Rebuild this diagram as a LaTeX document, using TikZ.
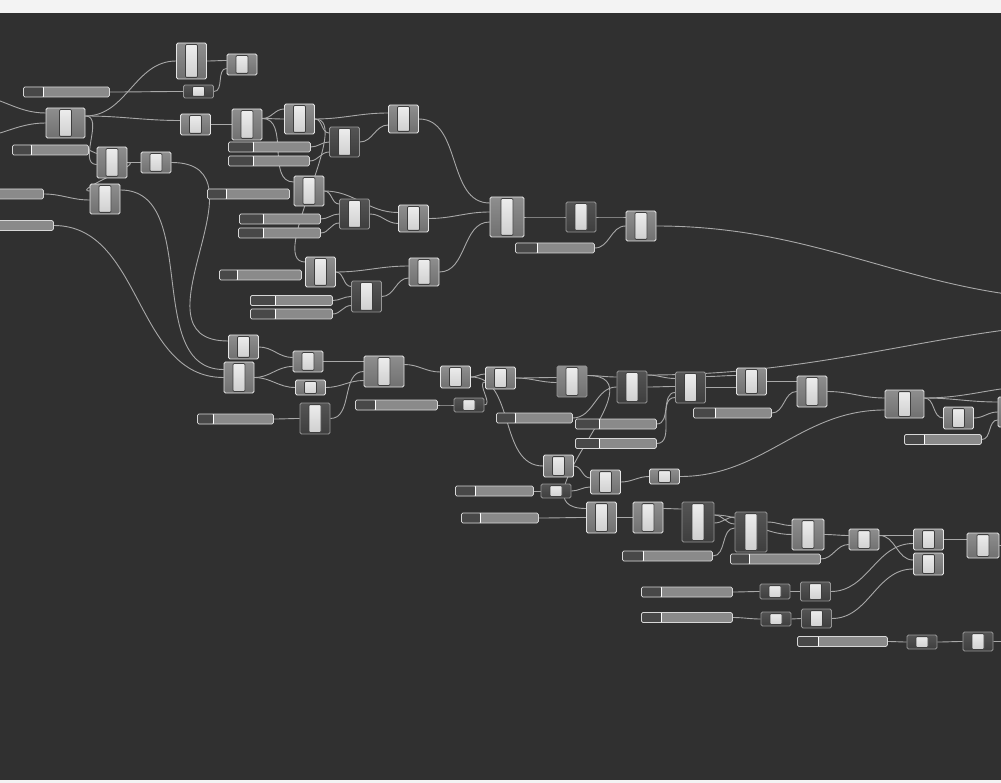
\documentclass[tikz,border=0pt]{standalone}
\usepackage{xcolor}
\usepackage{tikz}
\usetikzlibrary{backgrounds}
\definecolor{canvas}{RGB}{48,48,48}
\definecolor{topbar}{RGB}{243,243,243}
\definecolor{boxtop}{RGB}{142,142,142}
\definecolor{boxbot}{RGB}{112,112,112}
\definecolor{darktop}{RGB}{84,84,84}
\definecolor{darkbot}{RGB}{62,62,62}
\definecolor{edgelight}{RGB}{228,228,228}
\definecolor{edgedark}{RGB}{150,150,150}
\definecolor{bartop}{RGB}{238,238,238}
\definecolor{barbot}{RGB}{206,206,206}
\definecolor{baredge}{RGB}{62,62,62}
\definecolor{sliderfill}{RGB}{138,138,138}
\definecolor{sliderdark}{RGB}{72,72,72}
\definecolor{edgeslider}{RGB}{215,215,215}
\definecolor{wirecol}{RGB}{168,168,168}
\tikzset{
  comp/.style={rectangle, rounded corners=1.5pt, draw=edgelight, line width=0.8pt,
               top color=boxtop, bottom color=boxbot, minimum width=30pt, minimum height=#1, inner sep=0pt,
               path picture={\draw[draw=baredge, line width=0.8pt, top color=bartop, bottom color=barbot, rounded corners=1pt]
                 ([xshift=-6pt,yshift=1.6pt]path picture bounding box.south) rectangle ([xshift=6pt,yshift=-1.6pt]path picture bounding box.north);}},
  comp/.default=30pt,
  compdark/.style={comp=#1, draw=edgedark, top color=darktop, bottom color=darkbot},
  compdark/.default=30pt,
  slider/.style={rectangle, rounded corners=1.5pt, draw=edgeslider, line width=0.8pt, fill=sliderfill,
                 minimum height=10pt, inner sep=0pt, anchor=west,
                 path picture={\fill[sliderdark] (path picture bounding box.south west) rectangle ([xshift=#1]path picture bounding box.north west);
                   \draw[white, line width=0.8pt] ([xshift=#1]path picture bounding box.south west) -- ([xshift=#1]path picture bounding box.north west);}},
  slider/.default=20pt,
  wire/.style={draw=wirecol, line width=0.9pt, out=0, in=180},
}
\begin{document}
\begin{tikzpicture}[x=1pt, y=-1pt]
\useasboundingbox (0,0) rectangle (1001,783);
% upper group
\node[comp=36pt] (A) at (191.5,61) {};
\node[comp=21pt] (B) at (242,64.5) {};
\node[compdark=13pt] (C) at (198.5,91.5) {};
\node[slider, minimum width=86pt] (S1) at (23,92) {};
\node[comp, minimum width=39pt] (D) at (65.5,123) {};
\node[comp=21pt] (E) at (195.5,124.5) {};
\node[comp=31pt] (F) at (247,124.5) {};
\node[comp] (G) at (299.5,119) {};
\node[slider=19pt, minimum width=76pt] (S2) at (12,150) {};
\node[comp=31pt] (H) at (112,162.5) {};
\node[comp=21pt] (I) at (156,162.5) {};
\node[slider=25pt, minimum width=82pt] (S3) at (228,147) {};
\node[slider=25pt, minimum width=81pt] (S4) at (228,161) {};
\node[slider, minimum width=78pt] (S5) at (-35,194) {};
\node[comp] (J) at (105,199) {};
\node[slider, minimum width=83pt] (S6) at (-30,225.5) {};
\node[comp] (K) at (309,191) {};
\node[slider=19pt, minimum width=82pt] (S7) at (207,194) {};
\node[slider=24pt, minimum width=81pt] (S8) at (239,219) {};
\node[slider=25pt, minimum width=82pt] (S9) at (238,233) {};
\node[comp=28pt] (L) at (403.5,119) {};
\node[compdark] (M) at (344.5,142) {};
\node[compdark] (N) at (354.5,214) {};
\node[comp=27pt] (O) at (413.5,218.5) {};
\node[comp] (P) at (320.5,272) {};
\node[comp=28pt] (Q) at (424,272) {};
\node[compdark=31pt] (R) at (366.5,296.5) {};
\node[slider=18pt, minimum width=82pt] (S10) at (219,275) {};
\node[slider=25pt, minimum width=82pt] (S11) at (250,300.5) {};
\node[slider=25pt, minimum width=82pt] (S12) at (250,314) {};
\node[comp=40pt, minimum width=34pt] (T) at (507,217) {};
\node[compdark] (U) at (581,217) {};
\node[comp] (V) at (641,226) {};
\node[slider=22pt, minimum width=79pt] (S13) at (515,248) {};
% middle group
\node[comp=24pt] (W) at (243.5,347) {};
\node[comp=31pt] (X) at (239,377.5) {};
\node[comp=21pt] (Y) at (308,361.5) {};
\node[comp=15pt] (Z) at (310.5,387.5) {};
\node[slider=16pt, minimum width=76pt] (S14) at (197,419) {};
\node[compdark=31pt] (AA) at (315,418.5) {};
\node[comp=31pt, minimum width=40pt] (AB) at (384,371.5) {};
\node[slider, minimum width=82pt] (S15) at (355,405) {};
\node[compdark=14pt] (AC) at (469,405) {};
\node[comp=22pt] (AD) at (455.5,377) {};
\node[comp=22pt] (AE) at (500.5,378) {};
\node[comp=31pt, draw=edgedark] (AF) at (572,381.5) {};
\node[compdark=32pt] (AG) at (632,387) {};
\node[compdark=31pt] (AH) at (690.5,387.5) {};
\node[comp=27pt] (AI) at (751.5,381.5) {};
\node[comp=31pt] (AJ) at (812,391.5) {};
\node[slider=19pt, minimum width=76pt] (S16) at (496,418) {};
\node[slider=24pt, minimum width=81pt] (S17) at (575,424) {};
\node[slider=24pt, minimum width=81pt] (S18) at (575,443.5) {};
\node[slider=22pt, minimum width=78pt] (S19) at (693,413) {};
\node[comp=22pt] (AK) at (558.5,466) {};
\node[compdark=14pt] (AL) at (556,491) {};
\node[comp=24pt] (AM) at (605.5,482) {};
\node[comp=15pt] (AN) at (664.5,476.5) {};
\node[slider, minimum width=78pt] (S20) at (455,491) {};
\node[slider=19pt, minimum width=77pt] (S21) at (461,518) {};
\node[comp=31pt] (AO) at (601.5,517.5) {};
\node[comp=31pt] (AP) at (648,517.5) {};
\node[compdark=40pt, minimum width=32pt] (AQ) at (698,522) {};
\node[compdark=40pt, minimum width=32pt] (AR) at (751,532) {};
\node[slider=21pt, minimum width=90pt] (S22) at (622,556) {};
\node[slider=19pt, minimum width=90pt] (S23) at (730,559) {};
\node[comp=31pt, minimum width=32pt] (AS) at (808,534.5) {};
\node[comp=21pt] (AT) at (864,539.5) {};
\node[comp=21pt] (AU) at (928.5,539.5) {};
\node[comp=22pt] (AV) at (928.5,564) {};
\node[comp=25pt, minimum width=32pt] (AW) at (983,545.5) {};
\node[slider, minimum width=91pt] (S24) at (641,592) {};
\node[compdark=15pt] (AX) at (775,591.5) {};
\node[compdark=19pt] (AY) at (815.5,591.5) {};
\node[slider, minimum width=91pt] (S25) at (641,617.5) {};
\node[compdark=14pt] (AZ) at (776,619) {};
\node[compdark=19pt] (BA) at (816.5,618.5) {};
\node[slider=21pt, minimum width=90pt] (S26) at (797,641.5) {};
\node[compdark=14pt] (BB) at (922,642) {};
\node[compdark=19pt] (BC) at (978,641.5) {};
\node[comp=28pt, minimum width=39pt] (BD) at (904.5,404) {};
\node[comp=22pt] (BE) at (958.5,418) {};
\node[comp] (BF) at (1013,412) {};
\node[slider, minimum width=77pt] (S27) at (904,439.5) {};
% wires running off the canvas
\coordinate (inL1) at (-30,95);
\coordinate (inL2) at (-30,138);
\coordinate (outR1) at (1090,300);
\coordinate (outR2) at (1150,320);
\coordinate (outR3) at (1040,386);
\coordinate (outR4) at (1040,545);
\coordinate (outR5) at (1040,642);
\begin{scope}[on background layer]
\fill[topbar] (0,0) rectangle (1001,13);
\fill[canvas] (0,13) rectangle (1001,780);
\fill[topbar] (0,780) rectangle (1001,783);
\draw[wire] (inL1) to ([yshift=10pt]D.west);
\draw[wire] (inL2) to (D.west);
\draw[wire] ([yshift=7pt]D.east) to (A.west);
\draw[wire] ([yshift=7pt]D.east) to ([yshift=4pt]E.west);
\draw[wire] ([yshift=7pt]D.east) to ([yshift=-2pt]H.west);
\draw[wire] (S1.east) to (C.west);
\draw[wire] (C.east) to ([yshift=-4pt]B.west);
\draw[wire] (A.east) to ([yshift=4pt]B.west);
\draw[wire] (E.east) to (F.west);
\draw[wire] (S2.east) to ([yshift=9pt]H.west);
\draw[wire] (H.east) to (I.west);
\draw[wire] (H.east) to ([yshift=8pt]J.west);
\draw[wire] (S5.east) to ([yshift=-1pt]J.west);
\draw[wire, looseness=1.4] (I.east) to ([yshift=6pt]W.west);
\draw[wire] ([yshift=9pt]J.east) to ([yshift=8pt]X.west);
\draw[wire] (S6.east) to (X.west);
\draw[wire] ([yshift=6pt]F.east) to ([yshift=10pt]G.west);
\draw[wire] ([yshift=6pt]F.east) to (G.west);
\draw[wire] ([yshift=6pt]F.east) to ([yshift=9pt]K.west);
\draw[wire] (G.east) to ([yshift=6pt]L.west);
\draw[wire] (G.east) to ([yshift=9pt]M.west);
\draw[wire] (S3.east) to (M.west);
\draw[wire] (S4.east) to ([yshift=-10pt]M.west);
\draw[wire] (M.east) to ([yshift=-6pt]L.west);
\draw[wire, looseness=0.7] (G.east) to ([yshift=10pt]P.west);
\draw[wire] (L.east) to ([yshift=14pt]T.west);
\draw[wire] (K.east) to ([yshift=10pt]N.west);
\draw[wire] (K.east) to ([yshift=6pt]O.west);
\draw[wire] (S8.east) to (N.west);
\draw[wire] (S9.east) to ([yshift=-9pt]N.west);
\draw[wire] (N.east) to ([yshift=-5pt]O.west);
\draw[wire] (O.east) to ([yshift=5pt]T.west);
\draw[wire] (P.east) to ([yshift=6pt]Q.west);
\draw[wire] (P.east) to ([yshift=10pt]R.west);
\draw[wire] (S11.east) to (R.west);
\draw[wire] (S12.east) to ([yshift=-9pt]R.west);
\draw[wire] (R.east) to ([yshift=-6pt]Q.west);
\draw[wire] (Q.east) to ([yshift=-5pt]T.west);
\draw[wire] (T.east) to (U.west);
\draw[wire] (U.east) to ([yshift=9pt]V.west);
\draw[wire] (S13.east) to (V.west);
\draw[wire] (V.east) to (outR1);
\draw[wire] (W.east) to ([yshift=4pt]Y.west);
\draw[wire] (X.east) to ([yshift=-5pt]Y.west);
\draw[wire] (X.east) to (Z.west);
\draw[wire] (Y.east) to ([yshift=10pt]AB.west);
\draw[wire] (AA.east) to (AB.west);
\draw[wire] (Z.east) to ([yshift=-9pt]AB.west);
\draw[wire] (S14.east) to (AA.west);
\draw[wire] ([yshift=7pt]AB.east) to ([yshift=5pt]AD.west);
\draw[wire] (S15.east) to (AC.west);
\draw[wire] (AD.east) to ([yshift=4pt]AE.west);
\draw[wire] (AC.east) to ([yshift=-4pt]AE.west);
\draw[wire] (AD.east) to (AK.west);
\draw[wire] (AE.east) to ([yshift=4pt]AF.west);
\draw[wire] (AE.east) to ([yshift=-1pt]AF.west);
\draw[wire] ([yshift=6pt]AF.east) to ([yshift=10pt]AG.west);
\draw[wire, looseness=1.5] ([yshift=6pt]AF.east) to ([yshift=9pt]AO.west);
\draw[wire] (S16.east) to (AG.west);
\draw[wire] ([yshift=12pt]AG.east) to (outR2);
\draw[wire] ([yshift=12pt]AG.east) to ([yshift=9pt]AH.west);
\draw[wire] (AG.east) to ([yshift=1pt]AH.west);
\draw[wire] (S17.east) to ([yshift=-5pt]AH.west);
\draw[wire] (S18.east) to ([yshift=-10pt]AH.west);
\draw[wire] ([yshift=11pt]AH.east) to ([yshift=6pt]AI.west);
\draw[wire] (AH.east) to ([yshift=-6pt]AI.west);
\draw[wire] (AI.east) to ([yshift=10pt]AJ.west);
\draw[wire] (S19.east) to (AJ.west);
\draw[wire] (AJ.east) to ([yshift=6pt]BD.west);
\draw[wire] (AN.east) to ([yshift=-6pt]BD.west);
\draw[wire] (AK.east) to ([yshift=4pt]AM.west);
\draw[wire] (AL.east) to ([yshift=-5pt]AM.west);
\draw[wire] (S20.east) to (AL.west);
\draw[wire] (AM.east) to (AN.west);
\draw[wire] (S21.east) to (AO.west);
\draw[wire] (AO.east) to (AP.west);
\draw[wire] ([yshift=9pt]AP.east) to ([yshift=13pt]AQ.west);
\draw[wire] ([yshift=7pt]AQ.east) to ([yshift=8pt]AR.west);
\draw[wire] ([yshift=-1pt]AQ.east) to ([yshift=15pt]AR.west);
\draw[wire] ([yshift=7pt]AQ.east) to (AS.west);
\draw[wire] (S22.east) to ([yshift=4pt]AR.west);
\draw[wire] ([yshift=10pt]AR.east) to ([yshift=9pt]AS.west);
\draw[wire] (AS.east) to ([yshift=4pt]AT.west);
\draw[wire] (S23.east) to ([yshift=-5pt]AT.west);
\draw[wire] ([yshift=4pt]AT.east) to ([yshift=4pt]AU.west);
\draw[wire] ([yshift=4pt]AT.east) to ([yshift=4pt]AV.west);
\draw[wire] (AY.east) to ([yshift=-4pt]AU.west);
\draw[wire] (BA.east) to ([yshift=-5pt]AV.west);
\draw[wire] (AU.east) to ([yshift=6pt]AW.west);
\draw[wire] (AW.east) to (outR4);
\draw[wire] (S24.east) to (AX.west);
\draw[wire] (AX.east) to (AY.west);
\draw[wire] (S25.east) to (AZ.west);
\draw[wire] (AZ.east) to (BA.west);
\draw[wire] (S26.east) to (BB.west);
\draw[wire] (BB.east) to (BC.west);
\draw[wire] (BC.east) to (outR5);
\draw[wire] ([yshift=6pt]BD.east) to (outR3);
\draw[wire] ([yshift=6pt]BD.east) to ([yshift=10pt]BF.west);
\draw[wire] ([yshift=6pt]BD.east) to (BE.west);
\draw[wire] (BE.east) to (BF.west);
\draw[wire] (S27.east) to ([yshift=-8pt]BF.west);
\end{scope}
\end{tikzpicture}
\end{document}
